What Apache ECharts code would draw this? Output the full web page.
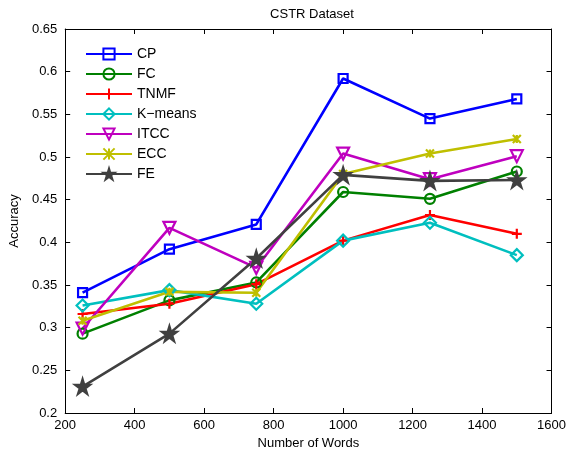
<!DOCTYPE html>
<html>
<head>
<meta charset="utf-8">
<title>CSTR Dataset</title>
<script src="https://cdn.jsdelivr.net/npm/echarts@6/dist/echarts.min.js"></script>
<style>
  html, body { margin: 0; padding: 0; background: #fff; }
  #chart { width: 569px; height: 457px; }
</style>
</head>
<body>
<div id="chart"></div>
<script>
// data
const words = [250, 500, 750, 1000, 1250, 1500]
const cp = [0.341, 0.392, 0.421, 0.592, 0.545, 0.568]
const fc = [0.293, 0.332, 0.353, 0.459, 0.451, 0.483]
const tnmf = [0.316, 0.328, 0.351, 0.402, 0.432, 0.410]
const kmeans = [0.326, 0.344, 0.328, 0.402, 0.423, 0.385]
const itcc = [0.299, 0.417, 0.370, 0.504, 0.474, 0.501]
const ecc = [0.308, 0.342, 0.341, 0.480, 0.504, 0.521]
const fe = [0.231, 0.293, 0.381, 0.479, 0.472, 0.473]

const STAR = 'path://M0,-100L22,-31L95,-31L36,12L59,81L0,38L-59,81L-36,12L-95,-31L-22,-31Z'
const PLUS = 'path://M0,-100L0,100M-100,0L100,0'
const ASTER = 'path://M-100,-100L100,100M-100,100L100,-100M0,-100L0,100'

const font = 'Liberation Sans, Arial, sans-serif'

function mk(name, values, color, symbol, size, opts = {}) {
  return {
    name: name,
    type: 'line',
    data: words.map((w, i) => [w, values[i]]),
    symbol: symbol,
    symbolSize: size,
    symbolRotate: opts.rotate || 0,
    showAllSymbol: true,
    animation: false,
    lineStyle: { color: color, width: 2.6 },
    itemStyle: {
      color: opts.fill ? color : 'rgba(255,255,255,0)',
      borderColor: color,
      borderWidth: 2.2
    },
    emphasis: { disabled: true }
  }
}

const chart = echarts.init(document.getElementById('chart'))

chart.setOption({
  animation: false,
  title: {
    text: 'CSTR Dataset',
    left: 307,
    top: 3,
    textAlign: 'center',
    textStyle: { fontFamily: font, fontSize: 13, fontWeight: 'normal', color: '#000' }
  },
  legend: {
    orient: 'vertical',
    left: 80,
    top: 42,
    itemWidth: 46,
    itemHeight: 14,
    itemGap: 6,
    textStyle: { fontFamily: font, fontSize: 14, color: '#000' },
    data: ['CP', 'FC', 'TNMF', 'K\u2212means', 'ITCC', 'ECC', 'FE']
  },
  grid: { left: 62, right: 16, top: 29, bottom: 44 },
  xAxis: [{
    type: 'value',
    min: 200,
    max: 1600,
    interval: 200,
    name: 'Number of Words',
    nameLocation: 'middle',
    nameGap: 23,
    nameTextStyle: { fontFamily: font, fontSize: 13, color: '#000' },
    axisLine: { lineStyle: { color: '#000', width: 1 } },
    axisTick: { inside: true, length: 5, lineStyle: { color: '#000' } },
    axisLabel: { fontFamily: font, fontSize: 13, color: '#000', margin: 6, formatter: v => String(v) },
    splitLine: { show: false }
  }, {
    type: 'value',
    position: 'top',
    min: 200,
    max: 1600,
    interval: 200,
    axisLine: { show: true, lineStyle: { color: '#000', width: 1 } },
    axisTick: { inside: true, length: 5, lineStyle: { color: '#000' } },
    axisLabel: { show: false },
    splitLine: { show: false }
  }],
  yAxis: [{
    type: 'value',
    min: 0.2,
    max: 0.65,
    interval: 0.05,
    name: 'Accuracy',
    nameLocation: 'middle',
    nameGap: 40,
    nameTextStyle: { fontFamily: font, fontSize: 13, color: '#000' },
    axisLine: { show: true, lineStyle: { color: '#000', width: 1 } },
    axisTick: { show: true, inside: true, length: 5, lineStyle: { color: '#000' } },
    axisLabel: { fontFamily: font, fontSize: 13, color: '#000', margin: 8 },
    splitLine: { show: false }
  }, {
    type: 'value',
    position: 'right',
    min: 0.2,
    max: 0.65,
    interval: 0.05,
    axisLine: { show: true, lineStyle: { color: '#000', width: 1 } },
    axisTick: { show: true, inside: true, length: 5, lineStyle: { color: '#000' } },
    axisLabel: { show: false },
    splitLine: { show: false }
  }],
  series: [
    mk('CP', cp, '#0000ff', 'rect', 9),
    mk('FC', fc, '#008000', 'circle', 10),
    mk('TNMF', tnmf, '#ff0000', PLUS, 10),
    mk('K\u2212means', kmeans, '#00bfbf', 'diamond', 12),
    mk('ITCC', itcc, '#bf00bf', 'triangle', 12, { rotate: 180 }),
    mk('ECC', ecc, '#bfbf00', ASTER, 8),
    mk('FE', fe, '#404040', STAR, 15, { fill: true })
  ]
})
</script>
</body>
</html>
